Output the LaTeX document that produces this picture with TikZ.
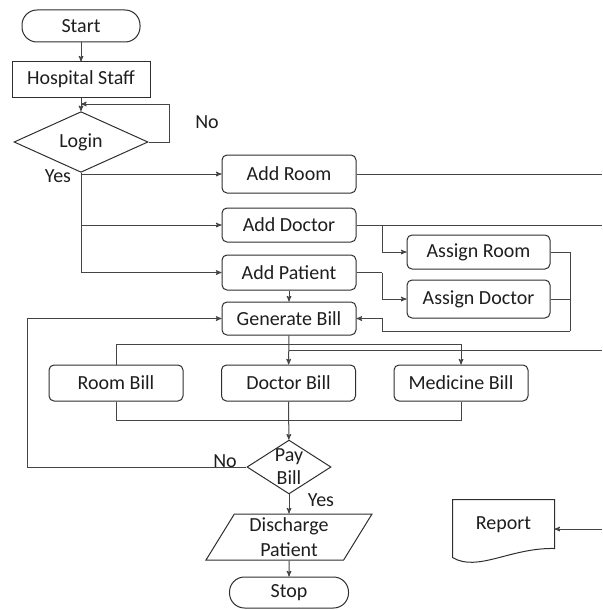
\documentclass[tikz,border=0pt]{standalone}
\usepackage{fontspec}
\setmainfont{Carlito}
\usepackage{tikz}
\usetikzlibrary{arrows,positioning,shapes.geometric}
\usepackage{xcolor}
\definecolor{flow-text}{HTML}{1E1E1E}
\definecolor{flow-border}{HTML}{2E2E2E}
\definecolor{flow-line}{HTML}{454545}

\begin{document}
\begin{tikzpicture}[x=1pt,y=-1pt,>=stealth',line width=1pt,
    font=\fontsize{20}{23}\selectfont,text=flow-text]
  \tikzstyle{process}=[draw=flow-border, rounded corners=5pt, minimum width=134pt, minimum height=35pt, inner sep=0pt]
  \tikzstyle{terminal}=[draw=flow-border, rounded corners=15pt, minimum width=118pt, minimum height=32pt, inner sep=0pt]
  \tikzstyle{decision}=[draw=flow-border, diamond, inner sep=0pt]
  \tikzstyle{flow}=[->, flow-line]
  \tikzstyle{wire}=[flow-line]

  \useasboundingbox (0,0) rectangle (602,610);

  \node[terminal]         (start)      at (81,26)      {Start};
  \node[draw=flow-border, minimum width=138pt, minimum height=35pt] (staff) at (81,79.5) {Hospital Staff};
  \node[decision, minimum width=134pt, minimum height=54pt] (login) at (81,142) {Login};
  \node (loginno)  at (207,122) {No};
  \node (loginyes) at (58,176)  {Yes};

  \node[process, minimum height=38pt] (addroom)    at (289,174)   {Add Room};
  \node[process, minimum height=34pt] (adddoctor)  at (289,225)   {Add Doctor};
  \node[process]                      (addpatient) at (289,272.5) {Add Patient};
  \node[process, minimum height=33pt] (genbill)    at (289,318.5) {Generate Bill};
  \node[process, minimum width=143pt, minimum height=34pt] (asroom)   at (478.5,252) {Assign Room};
  \node[process, minimum width=143pt, minimum height=38pt] (asdoctor) at (478.5,299) {Assign Doctor};

  \node[process, minimum height=36pt] (roombill) at (116,383)   {Room Bill};
  \node[process, minimum height=36pt] (docbill)  at (288.5,383) {Doctor Bill};
  \node[process, minimum height=36pt] (medbill)  at (461,383)   {Medicine Bill};

  \node[decision, aspect=1.56, align=center] (paybill) at (289,467) {Pay\\Bill};
  \node (paybillno)  at (225,461) {No};
  \node (paybillyes) at (321,500) {Yes};
  \node[draw=flow-border, trapezium, trapezium left angle=54, trapezium right angle=126,
        trapezium stretches body, minimum width=166pt, minimum height=46pt, inner sep=0pt,
        align=center, font=\fontsize{20}{25}\selectfont] (discharge) at (289,537) {Discharge\\Patient};
  \node[terminal, minimum width=119pt, minimum height=31pt] (stop) at (289,592.5) {Stop};

  \node[minimum width=101pt, minimum height=50pt, inner sep=0pt] (report) at (503.5,525) {Report};
  \draw[flow-border] (report.north west) -- (report.north east) -- ([yshift=2pt]report.south east)
    .. controls +(-44,-1) and +(25,15) .. ([yshift=-7pt]report.south west) -- cycle;

  \coordinate (nojoin)      at (81,104);
  \coordinate (roomout)     at (602,174);
  \coordinate (doctorout)   at (602,225);
  \coordinate (split)       at (382,272.5);
  \coordinate (assignjoin)  at (570,331);
  \coordinate (billrail)    at (116,344);
  \coordinate (reportout)   at (602,350);
  \coordinate (billjoin)    at (116,420);
  \coordinate (noloop)      at (27,467);
  \coordinate (reportin)    at (602,529);

  %% login
  \draw[flow] (start) -- (staff);
  \draw[flow] (staff) -- (login);
  \draw[flow] (login.east) -- ++(21,0) |- (nojoin);
  \draw[flow] (login.south) |- (addroom.west);
  \draw[flow] (login.south) |- (adddoctor.west);
  \draw[flow] (login.south) |- (addpatient.west);

  %% records
  \draw[wire] (addroom.east) -- (roomout);
  \draw[wire] (adddoctor.east) -- (doctorout);
  \draw[wire] (addpatient.east) -- (split);
  \draw[flow] (split |- adddoctor.east) |- (asroom.west);
  \draw[flow] (split) |- (asdoctor.west);
  \draw[wire] (asroom.east) -| (assignjoin);
  \draw[wire] (asdoctor.east) -- (asdoctor.east -| assignjoin);
  \draw[flow] (assignjoin) -- (assignjoin -| split) |- (genbill.east);
  \draw[flow] (addpatient) -- (genbill);

  %% billing
  \draw[flow] (genbill) -- (docbill);
  \draw[flow] (roombill.north) -- (billrail) -| (medbill.north);
  \draw[wire] (genbill.south |- reportout) -- (reportout);
  \draw[wire] (roombill.south) -- (billjoin) -| (medbill.south);
  \draw[flow] (docbill) -- (paybill);
  \draw[flow] (paybill.west) -- (noloop) |- (genbill.west);
  \draw[flow] (paybill) -- (discharge);
  \draw[flow] (discharge) -- (stop);
  \draw[flow] (reportin) -- (reportin -| report.east);
\end{tikzpicture}
\end{document}
